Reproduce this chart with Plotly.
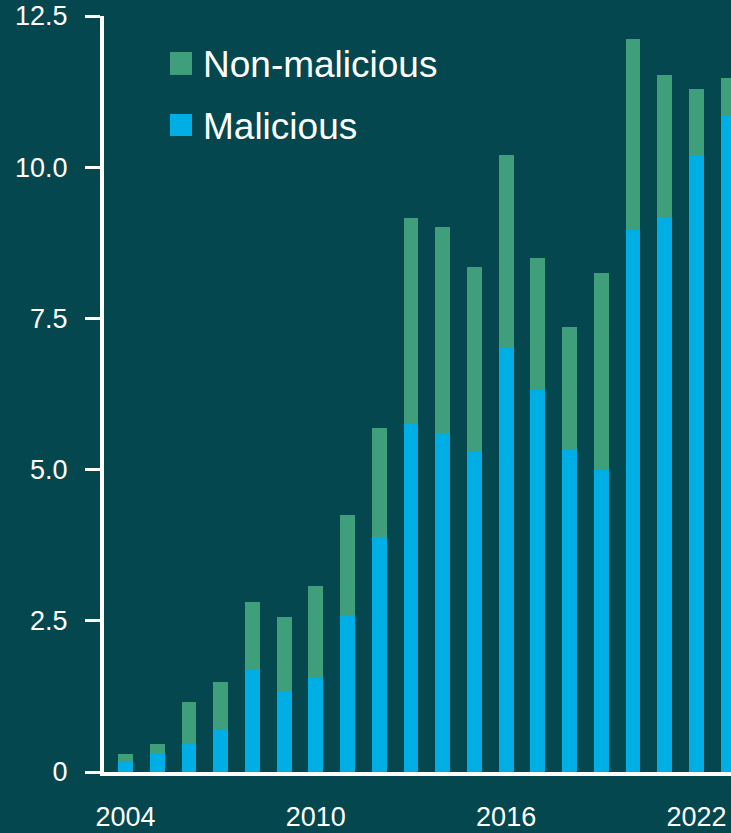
import plotly.graph_objects as go

years = list(range(2004, 2024))
malicious = [0.17, 0.31, 0.46, 0.69, 1.69, 1.32, 1.55, 2.58, 3.89, 5.75,
             5.61, 5.29, 7.03, 6.32, 5.32, 4.99, 8.96, 9.16, 10.19, 10.86]
non_malicious = [0.13, 0.15, 0.70, 0.80, 1.12, 1.24, 1.53, 1.67, 1.80, 3.41,
                 3.40, 3.06, 3.17, 2.18, 2.04, 3.26, 3.16, 2.36, 1.10, 0.61]
series_names = ["Malicious", "Non-malicious"]
y_tickvals = [0, 2.5, 5.0, 7.5, 10.0, 12.5]
y_ticktext = ["0", "2.5", "5.0", "7.5", "10.0", "12.5"]
x_tickvals = [2004, 2010, 2016, 2022]

BG = "#05474e"
BLUE = "#00aee6"
GREEN = "#3f9f7b"
FONT = "Liberation Sans, Arial, sans-serif"

fig = go.Figure()
fig.add_trace(go.Bar(x=years, y=malicious, name=series_names[0],
                     marker=dict(color=BLUE, line=dict(width=0)), width=0.47))
fig.add_trace(go.Bar(x=years, y=non_malicious, name=series_names[1],
                     marker=dict(color=GREEN, line=dict(width=0)), width=0.47))

# manual legend (larger swatches)
legend_items = [(series_names[1], GREEN, 0.9524, 0.9220, 0.9352),
                (series_names[0], BLUE, 0.8704, 0.8413, 0.8532)]
for name, col, y1, y0, ty in legend_items:
    fig.add_shape(type="rect", xref="paper", yref="paper",
                  x0=0.1053, x1=0.1404, y0=y0, y1=y1,
                  fillcolor=col, line=dict(width=0), layer="above")
    fig.add_annotation(xref="paper", yref="paper", x=0.1547, y=ty,
                       text=name, showarrow=False, xanchor="left",
                       yanchor="middle",
                       font=dict(family=FONT, size=37, color="white"))

fig.update_layout(
    width=731, height=833,
    margin=dict(l=104, r=0, t=16, b=61, autoexpand=False),
    paper_bgcolor=BG, plot_bgcolor=BG,
    barmode="stack", bargap=0,
    showlegend=False,
    font=dict(family=FONT, size=27, color="white"),
)
fig.update_xaxes(range=[2003.32, 2023.09], tickvals=x_tickvals,
                 showgrid=False, zeroline=False, showline=True,
                 linecolor="white", linewidth=4, ticks="",
                 ticklabelstandoff=18, automargin=False,
                 tickfont=dict(family=FONT, size=27, color="white"))
fig.update_yaxes(range=[0, 12.5], tickvals=y_tickvals, ticktext=y_ticktext,
                 showgrid=False, zeroline=False, showline=True,
                 linecolor="white", linewidth=4, ticks="outside",
                 ticklen=15, tickwidth=3, tickcolor="white",
                 ticklabelstandoff=12, automargin=False,
                 tickfont=dict(family=FONT, size=27, color="white"))

fig.write_html(
    "out.html",
    config={"displayModeBar": False},
    post_script=("document.body.style.margin='0';"
                 "document.body.style.overflow='hidden';"
                 "document.body.style.background='" + BG + "';"),
)
